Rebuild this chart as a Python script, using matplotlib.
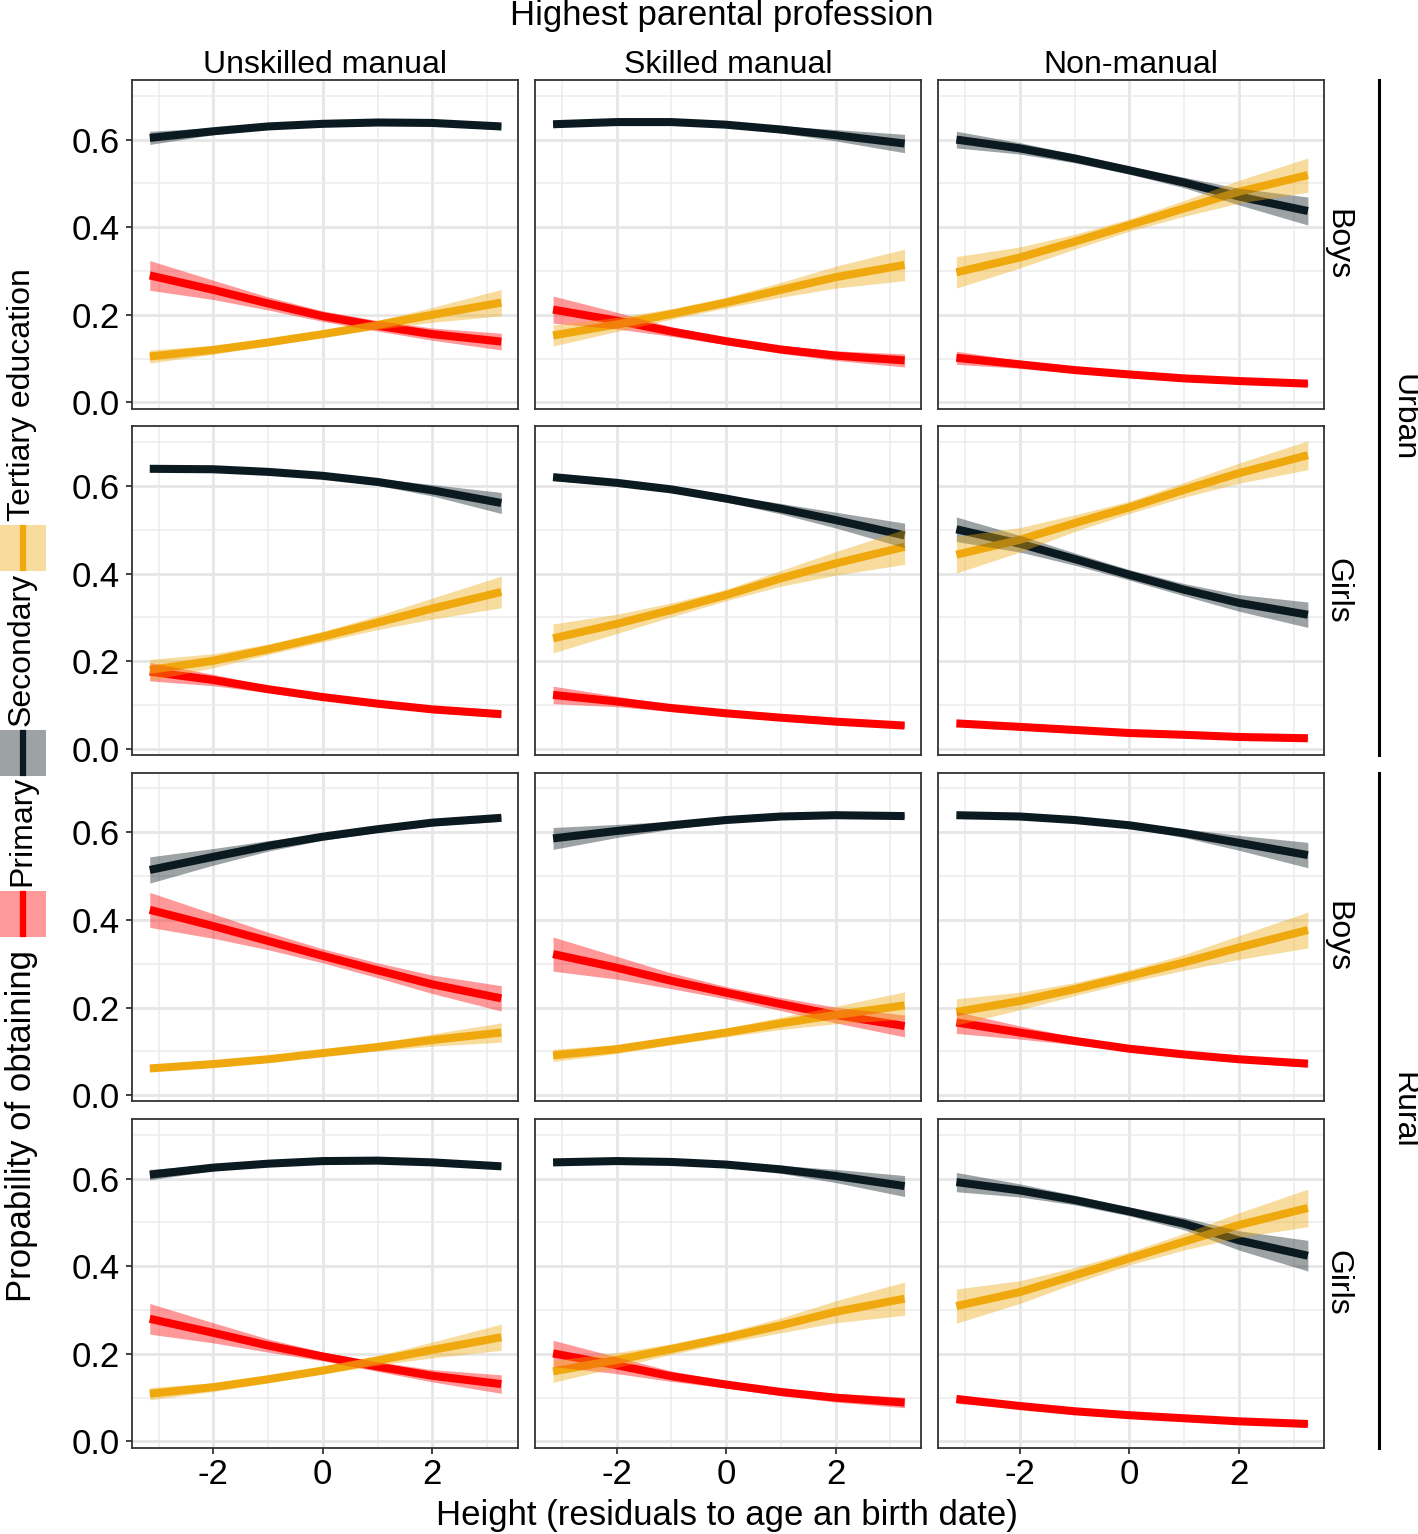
import matplotlib
matplotlib.use("Agg")
import matplotlib.pyplot as plt
from matplotlib.patches import Rectangle
from matplotlib.lines import Line2D

plt.rcParams['font.family'] = ['Liberation Sans', 'DejaVu Sans']
plt.rcParams['axes.unicode_minus'] = False

# heights (residuals) where the fitted curves were read
height = [-3.16, -2, -1, 0, 1, 2, 3.26]

professions = ["Unskilled manual", "Skilled manual", "Non-manual"]
row_sex = ["Boys", "Girls", "Boys", "Girls"]
areas = ["Urban", "Rural"]
levels = ["Primary", "Secondary", "Tertiary education"]

# fitted probabilities, [row][column] -> values at `height`
primary_fit = [
    [[0.290, 0.257, 0.226, 0.197, 0.175, 0.156, 0.139],
     [0.212, 0.187, 0.162, 0.140, 0.121, 0.107, 0.096],
     [0.102, 0.087, 0.074, 0.064, 0.055, 0.049, 0.043]],
    [[0.176, 0.157, 0.136, 0.118, 0.103, 0.090, 0.079],
     [0.123, 0.108, 0.093, 0.081, 0.071, 0.062, 0.053],
     [0.058, 0.050, 0.043, 0.036, 0.032, 0.027, 0.024]],
    [[0.423, 0.386, 0.352, 0.318, 0.285, 0.253, 0.221],
     [0.322, 0.291, 0.261, 0.234, 0.208, 0.183, 0.158],
     [0.166, 0.143, 0.124, 0.106, 0.093, 0.082, 0.072]],
    [[0.280, 0.248, 0.219, 0.194, 0.171, 0.150, 0.131],
     [0.201, 0.174, 0.149, 0.130, 0.113, 0.100, 0.089],
     [0.097, 0.081, 0.069, 0.060, 0.053, 0.046, 0.040]],
]
secondary_fit = [
    [[0.604, 0.619, 0.630, 0.636, 0.639, 0.638, 0.630],
     [0.635, 0.640, 0.640, 0.634, 0.623, 0.610, 0.591],
     [0.600, 0.580, 0.557, 0.530, 0.502, 0.470, 0.437]],
    [[0.639, 0.638, 0.632, 0.623, 0.609, 0.590, 0.561],
     [0.620, 0.607, 0.592, 0.571, 0.548, 0.522, 0.487],
     [0.501, 0.468, 0.433, 0.397, 0.363, 0.333, 0.306]],
    [[0.514, 0.544, 0.569, 0.590, 0.607, 0.622, 0.633],
     [0.586, 0.603, 0.616, 0.628, 0.636, 0.639, 0.637],
     [0.639, 0.636, 0.628, 0.616, 0.598, 0.576, 0.548]],
    [[0.609, 0.625, 0.634, 0.640, 0.641, 0.637, 0.628],
     [0.637, 0.640, 0.638, 0.632, 0.621, 0.606, 0.583],
     [0.592, 0.573, 0.551, 0.525, 0.497, 0.459, 0.424]],
]
tertiary_fit = [
    [[0.105, 0.120, 0.137, 0.156, 0.177, 0.200, 0.228],
     [0.153, 0.178, 0.202, 0.228, 0.257, 0.286, 0.314],
     [0.297, 0.331, 0.367, 0.405, 0.443, 0.481, 0.519]],
    [[0.180, 0.201, 0.227, 0.256, 0.288, 0.320, 0.358],
     [0.252, 0.285, 0.317, 0.351, 0.389, 0.423, 0.461],
     [0.443, 0.477, 0.515, 0.551, 0.591, 0.629, 0.670]],
    [[0.061, 0.071, 0.082, 0.096, 0.110, 0.126, 0.143],
     [0.091, 0.105, 0.124, 0.143, 0.164, 0.183, 0.205],
     [0.190, 0.215, 0.242, 0.272, 0.303, 0.337, 0.377]],
    [[0.109, 0.124, 0.142, 0.162, 0.185, 0.209, 0.238],
     [0.160, 0.186, 0.211, 0.237, 0.265, 0.296, 0.326],
     [0.309, 0.341, 0.379, 0.418, 0.456, 0.494, 0.533]],
]

# half widths of the confidence ribbons
primary_ci = [
    [[.034, .022, .015, .012, .012, .014, .019],
     [.031, .019, .011, .008, .009, .011, .015],
     [.015, .009, .006, .005, .004, .004, .005]],
    [[.021, .013, .008, .006, .006, .007, .008],
     [.020, .012, .008, .006, .005, .005, .005],
     [.006, .005, .004, .004, .003, .003, .003]],
    [[.040, .028, .020, .016, .017, .021, .029],
     [.039, .026, .018, .014, .015, .018, .025],
     [.025, .015, .009, .006, .006, .007, .008]],
    [[.035, .023, .015, .010, .011, .014, .021],
     [.030, .019, .012, .008, .008, .010, .012],
     [.010, .006, .005, .004, .003, .003, .004]],
]
secondary_ci = [
    [[.015, .008, .005, .004, .004, .005, .008],
     [.006, .004, .004, .005, .008, .013, .021],
     [.019, .013, .010, .009, .012, .019, .032]],
    [[.005, .004, .004, .005, .008, .013, .024],
     [.008, .006, .006, .008, .012, .018, .028],
     [.028, .019, .014, .012, .014, .019, .029]],
    [[.030, .019, .012, .008, .007, .007, .008],
     [.025, .015, .009, .006, .005, .005, .005],
     [.005, .004, .004, .006, .010, .017, .029]],
    [[.012, .007, .005, .004, .004, .005, .007],
     [.004, .003, .003, .005, .009, .015, .024],
     [.022, .015, .011, .010, .014, .022, .035]],
]
tertiary_ci = [
    [[.015, .010, .007, .007, .010, .017, .030],
     [.024, .016, .012, .012, .017, .025, .036],
     [.036, .024, .017, .014, .018, .026, .039]],
    [[.024, .016, .012, .012, .016, .024, .036],
     [.033, .022, .016, .013, .018, .027, .040],
     [.042, .028, .019, .014, .017, .023, .033]],
    [[.006, .005, .005, .006, .009, .014, .022],
     [.014, .010, .009, .010, .014, .020, .031],
     [.030, .020, .015, .014, .018, .027, .041]],
    [[.014, .010, .008, .008, .011, .018, .030],
     [.025, .017, .012, .012, .017, .025, .038],
     [.039, .026, .018, .015, .019, .028, .043]],
]

colors = ["#FF0000", "#0B1A20", "#EFA90E"]
series = [(primary_fit, primary_ci), (secondary_fit, secondary_ci), (tertiary_fit, tertiary_ci)]

W, H = 1418, 1534
fig = plt.figure(figsize=(W / 100, H / 100), dpi=100)

col_left = [131.7, 535.0, 938.3]
row_top = [80.0, 426.3, 772.7, 1119.0]
pw, ph = 386.0, 328.5
FS = 25      # tick labels and axis titles
FS_S = 23    # strip and legend labels


def fx(px):
    return px / W


def fy(py):
    return 1 - py / H


for r in range(4):
    for c in range(3):
        ax = fig.add_axes([fx(col_left[c]), fy(row_top[r] + ph), pw / W, ph / H])
        for (fit, ci), col in zip(series, colors):
            y = fit[r][c]
            hw = ci[r][c]
            lo = [a - b for a, b in zip(y, hw)]
            hi = [a + b for a, b in zip(y, hw)]
            ax.plot(height, y, color=col, lw=5.8, solid_capstyle="butt",
                    solid_joinstyle="round", zorder=3)
            ax.fill_between(height, lo, hi, color=col, alpha=0.4, lw=0, zorder=4)
        ax.set_xlim(-3.49, 3.56)
        ax.set_ylim(-0.0137, 0.736)
        ax.set_xticks([-2, 0, 2])
        ax.set_xticks([-3, -1, 1, 3], minor=True)
        ax.set_yticks([0.0, 0.2, 0.4, 0.6])
        ax.set_yticks([0.1, 0.3, 0.5, 0.7], minor=True)
        ax.grid(which="major", color="#E6E6E6", lw=2.0, zorder=0)
        ax.grid(which="minor", color="#ECECEC", lw=1.1, zorder=0)
        ax.set_axisbelow(True)
        for s in ax.spines.values():
            s.set_color("#333333")
            s.set_linewidth(1.3)
        ax.tick_params(which="major", length=4.5, width=1.3, color="#333333",
                       labelsize=FS, labelcolor="black")
        ax.tick_params(axis="y", pad=4)
        ax.tick_params(axis="x", pad=3)
        ax.tick_params(which="minor", length=0)
        ax.set_yticklabels(["0.0", "0.2", "0.4", "0.6"])
        if c != 0:
            ax.tick_params(axis="y", labelleft=False, length=0)
        if r != 3:
            ax.tick_params(axis="x", labelbottom=False, length=0)
        if r == 0:
            ax.set_title(professions[c], fontsize=FS_S, pad=2)
        if c == 2:
            ax.text(1.035, 0.5, row_sex[r], transform=ax.transAxes, rotation=270,
                    ha="center", va="center", fontsize=FS_S)

# top title and x label
fig.text(fx(722), fy(16), "Highest parental profession", ha="center", va="center", fontsize=FS)
fig.text(fx(727), fy(1515), "Height (residuals to age an birth date)", ha="center", va="center", fontsize=FS)

# outer strips for area
for i, area in enumerate(areas):
    top = row_top[2 * i]
    bot = row_top[2 * i + 1] + ph
    fig.add_artist(Line2D([fx(1379), fx(1379)], [fy(top), fy(bot)], color="black", lw=2.2))
    fig.text(fx(1403), fy((top + bot) / 2), area, rotation=270, ha="center", va="center", fontsize=FS_S)

# y label and legend running up the left side
fig.text(fx(22), fy(1302), "Propability of obtaining", rotation=90, ha="center", va="bottom", fontsize=FS)
key_bottom = [937, 776, 571]
label_bottom = [886, 726, 521]
for lab, col, kb, lb in zip(levels, colors, key_bottom, label_bottom):
    fig.add_artist(Rectangle((0, fy(kb)), fx(46), 46 / H, transform=fig.transFigure,
                             facecolor=col, alpha=0.4, lw=0))
    fig.add_artist(Line2D([fx(23), fx(23)], [fy(kb - 3), fy(kb - 43)], color=col, lw=4.5))
    fig.text(fx(22), fy(lb), lab, rotation=90, ha="center", va="bottom", fontsize=FS_S)

fig.savefig("out.png", dpi=100)
